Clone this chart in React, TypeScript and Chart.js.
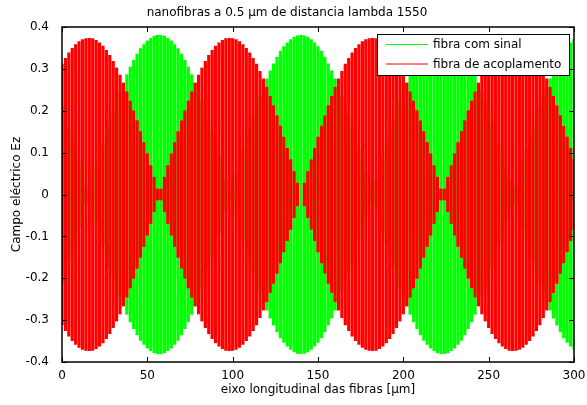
import React, { useEffect, useRef } from "react";
import { Chart, registerables } from "chart.js";

Chart.register(...registerables);

// sample positions along the fibre (µm), every 2 µm from 0 to 300
const positions: number[] = Array.from({ length: 151 }, (_, i) => i * 2);

// oscillation amplitude (|Ez| peak), fibra com sinal
const greenAmplitude: number[] = [
  0.211, 0.186, 0.161, 0.134, 0.107, 0.079, 0.050, 0.022, 0.007, 0.036,
  0.065, 0.093, 0.120, 0.147, 0.174, 0.199, 0.223, 0.245, 0.267, 0.287,
  0.305, 0.321, 0.336, 0.349, 0.359, 0.368, 0.374, 0.379, 0.381, 0.381,
  0.379, 0.374, 0.368, 0.359, 0.349, 0.336, 0.321, 0.305, 0.287, 0.267,
  0.245, 0.223, 0.199, 0.174, 0.147, 0.120, 0.093, 0.065, 0.036, 0.007,
  0.022, 0.050, 0.079, 0.107, 0.134, 0.161, 0.186, 0.211, 0.234, 0.256,
  0.277, 0.296, 0.313, 0.329, 0.343, 0.354, 0.363, 0.371, 0.377, 0.380,
  0.381, 0.380, 0.377, 0.371, 0.363, 0.354, 0.343, 0.329, 0.313, 0.296,
  0.277, 0.256, 0.234, 0.211, 0.186, 0.161, 0.134, 0.107, 0.079, 0.050,
  0.022, 0.007, 0.036, 0.065, 0.093, 0.120, 0.147, 0.174, 0.199, 0.223,
  0.245, 0.267, 0.287, 0.305, 0.321, 0.336, 0.349, 0.359, 0.368, 0.374,
  0.379, 0.381, 0.381, 0.379, 0.374, 0.368, 0.359, 0.349, 0.336, 0.321,
  0.305, 0.287, 0.267, 0.245, 0.223, 0.199, 0.174, 0.147, 0.120, 0.093,
  0.065, 0.036, 0.007, 0.022, 0.050, 0.079, 0.107, 0.134, 0.161, 0.186,
  0.211, 0.234, 0.256, 0.277, 0.296, 0.313, 0.329, 0.343, 0.354, 0.363,
  0.371,
];

// oscillation amplitude (|Ez| peak), fibra de acoplamento
const redAmplitude: number[] = [
  0.312, 0.326, 0.339, 0.350, 0.359, 0.366, 0.371, 0.373, 0.374, 0.373,
  0.369, 0.363, 0.355, 0.345, 0.333, 0.319, 0.303, 0.286, 0.267, 0.246,
  0.224, 0.201, 0.177, 0.151, 0.125, 0.098, 0.070, 0.042, 0.014, 0.014,
  0.042, 0.070, 0.098, 0.125, 0.151, 0.177, 0.201, 0.224, 0.246, 0.267,
  0.286, 0.303, 0.319, 0.333, 0.345, 0.355, 0.363, 0.369, 0.373, 0.374,
  0.373, 0.371, 0.366, 0.359, 0.350, 0.339, 0.326, 0.312, 0.295, 0.277,
  0.257, 0.235, 0.213, 0.189, 0.164, 0.138, 0.111, 0.084, 0.056, 0.028,
  0.000, 0.028, 0.056, 0.084, 0.111, 0.138, 0.164, 0.189, 0.213, 0.235,
  0.257, 0.277, 0.295, 0.312, 0.326, 0.339, 0.350, 0.359, 0.366, 0.371,
  0.373, 0.374, 0.373, 0.369, 0.363, 0.355, 0.345, 0.333, 0.319, 0.303,
  0.286, 0.267, 0.246, 0.224, 0.201, 0.177, 0.151, 0.125, 0.098, 0.070,
  0.042, 0.014, 0.014, 0.042, 0.070, 0.098, 0.125, 0.151, 0.177, 0.201,
  0.224, 0.246, 0.267, 0.286, 0.303, 0.319, 0.333, 0.345, 0.355, 0.363,
  0.369, 0.373, 0.374, 0.373, 0.371, 0.366, 0.359, 0.350, 0.339, 0.326,
  0.312, 0.295, 0.277, 0.257, 0.235, 0.213, 0.189, 0.164, 0.138, 0.111,
  0.084,
];

const seriesNames: string[] = ["fibra com sinal", "fibra de acoplamento"];
const xTickValues: number[] = [0, 50, 100, 150, 200, 250, 300];
const xTickLabels: string[] = ["0", "50", "100", "150", "200", "250", "300"];
const yTickValues: number[] = [-0.4, -0.3, -0.2, -0.1, 0, 0.1, 0.2, 0.3, 0.4];
const yTickLabels: string[] = ["-0.4", "-0.3", "-0.2", "-0.1", "0", "0.1", "0.2", "0.3", "0.4"];
const titleText = "nanofibras a 0.5 µm de distancia lambda 1550";
const xTitle = "eixo longitudinal das fibras [µm]";
const yTitle = "Campo eléctrico Ez";

const FONT = "'DejaVu Sans', sans-serif";
const GREEN = "#00ff00";
const RED = "#ff0000";

const framePlugin = {
  id: "matlabFrame",
  afterDatasetsDraw(chart: any) {
    const { ctx, chartArea } = chart;
    const { left, right, top, bottom } = chartArea;
    const xs = chart.scales.x;
    const ys = chart.scales.y;
    ctx.save();
    ctx.strokeStyle = "#000";
    ctx.lineWidth = 1;
    ctx.beginPath();
    xTickValues.forEach((v) => {
      const px = Math.round(xs.getPixelForValue(v)) + 0.5;
      ctx.moveTo(px, bottom);
      ctx.lineTo(px, bottom - 5);
      ctx.moveTo(px, top);
      ctx.lineTo(px, top + 5);
    });
    yTickValues.forEach((v) => {
      const py = Math.round(ys.getPixelForValue(v)) + 0.5;
      ctx.moveTo(left, py);
      ctx.lineTo(left + 5, py);
      ctx.moveTo(right, py);
      ctx.lineTo(right - 5, py);
    });
    ctx.stroke();
    ctx.lineWidth = 1.5;
    ctx.strokeRect(left, top, right - left, bottom - top);

    // legend box (inside the axes, north-east)
    const lx = 377.5;
    const ly = 34.5;
    const lw = 192;
    const lh = 41;
    ctx.fillStyle = "#fff";
    ctx.fillRect(lx, ly, lw, lh);
    ctx.lineWidth = 1;
    ctx.strokeStyle = "#000";
    ctx.strokeRect(lx, ly, lw, lh);
    const colors = [GREEN, RED];
    ctx.font = `12px ${FONT}`;
    ctx.textBaseline = "middle";
    ctx.textAlign = "left";
    seriesNames.forEach((name, i) => {
      const yy = ly + 10 + i * 19.5;
      ctx.strokeStyle = colors[i];
      ctx.lineWidth = 1;
      ctx.beginPath();
      ctx.moveTo(386, yy);
      ctx.lineTo(428, yy);
      ctx.stroke();
      ctx.fillStyle = "#000";
      ctx.fillText(name, 433, yy + 0.5);
    });
    ctx.restore();
  },
};

export default function App() {
  const canvasRef = useRef<HTMLCanvasElement | null>(null);

  useEffect(() => {
    if (!canvasRef.current) return;
    const chart = new Chart(canvasRef.current, {
      type: "bar",
      data: {
        datasets: [
          {
            label: seriesNames[0],
            data: positions.map((p, i) => ({ x: p, y: [-greenAmplitude[i], greenAmplitude[i]] })),
            backgroundColor: GREEN,
            borderWidth: 0,
            barPercentage: 0.94,
            categoryPercentage: 1,
            grouped: false,
            order: 2,
          },
          {
            label: seriesNames[1],
            data: positions.map((p, i) => ({ x: p, y: [-redAmplitude[i], redAmplitude[i]] })),
            backgroundColor: RED,
            borderWidth: 0,
            barPercentage: 0.94,
            categoryPercentage: 1,
            grouped: false,
            order: 1,
          },
        ],
      },
      options: {
        animation: false,
        responsive: false,
        devicePixelRatio: 1,
        layout: { padding: { left: 0, right: 13, top: 0, bottom: 0 } },
        plugins: {
          legend: { display: false },
          tooltip: { enabled: false },
          title: {
            display: true,
            text: titleText,
            color: "#000",
            font: { family: FONT, size: 12, weight: "normal" },
            padding: { top: 6, bottom: 6.6 },
          },
        },
        scales: {
          x: {
            type: "linear",
            min: 0,
            max: 300,
            offset: false,
            grid: { display: false },
            border: { display: false },
            afterBuildTicks: (s: any) => {
              s.ticks = xTickValues.map((v) => ({ value: v }));
            },
            afterFit: (s: any) => {
              s.height = 43;
            },
            ticks: {
              color: "#000",
              font: { family: FONT, size: 12 },
              padding: -1,
              maxRotation: 0,
              autoSkip: false,
              callback: (_v: any, i: number) => xTickLabels[i],
            },
            title: {
              display: true,
              text: xTitle,
              color: "#000",
              font: { family: FONT, size: 12 },
              padding: { top: 0, bottom: 8 },
            },
          },
          y: {
            type: "linear",
            min: -0.4,
            max: 0.4,
            grid: { display: false },
            border: { display: false },
            afterBuildTicks: (s: any) => {
              s.ticks = yTickValues.map((v) => ({ value: v }));
            },
            afterFit: (s: any) => {
              s.width = 62;
            },
            ticks: {
              color: "#000",
              font: { family: FONT, size: 12 },
              padding: 5,
              autoSkip: false,
              callback: (_v: any, i: number) => yTickLabels[i],
            },
            title: {
              display: true,
              text: yTitle,
              color: "#000",
              font: { family: FONT, size: 12 },
              padding: { top: 10, bottom: 0 },
            },
          },
        },
      },
      plugins: [framePlugin],
    });
    return () => chart.destroy();
  }, []);

  return (
    <div style={{ position: "absolute", left: 0, top: 0, width: 587, height: 405, background: "#fff" }}>
      <canvas ref={canvasRef} width={587} height={405} style={{ display: "block" }} />
    </div>
  );
}
